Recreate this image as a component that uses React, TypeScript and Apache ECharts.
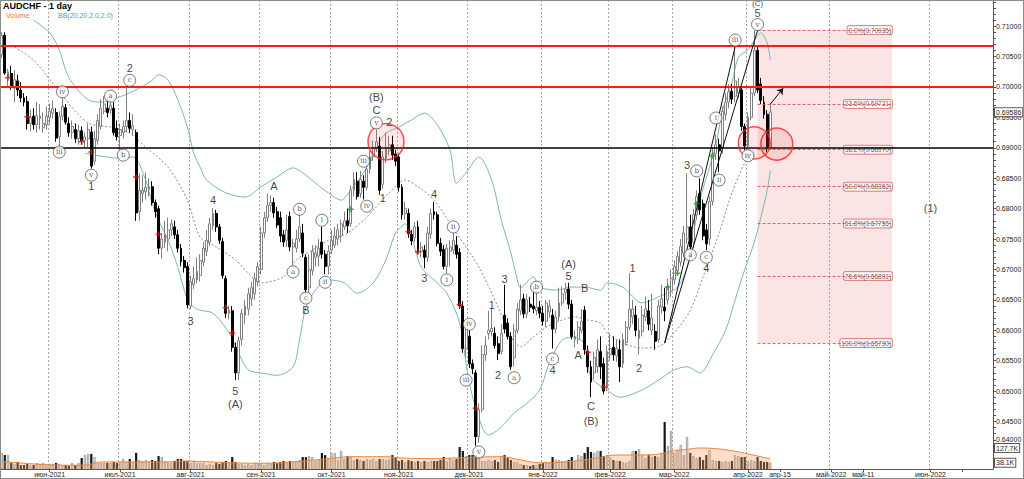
import React, { useEffect, useRef } from "react";
import * as echarts from "echarts";

// ---------- DATA ----------
const opens = [
  0.7053,0.7085,0.7015,0.7022,0.6998,0.7010,0.6995,0.6982,0.6976,0.6940,
  0.6952,0.6938,0.6948,0.6933,0.6938,0.6950,0.6957,0.6958,0.6918,0.6952,
  0.6966,0.6940,0.6925,0.6930,0.6915,0.6928,0.6912,0.6915,0.6926,0.6878,
  0.6912,0.6935,0.6960,0.6965,0.6962,0.6965,0.6932,0.6920,0.6925,0.6935,
  0.6945,0.6930,0.6925,0.6795,0.6825,0.6828,0.6832,0.6836,0.6810,0.6800,
  0.6735,0.6745,0.6750,0.6765,0.6770,0.6757,0.6735,0.6715,0.6705,0.6640,
  0.6675,0.6683,0.6690,0.6712,0.6730,0.6745,0.6772,0.6792,0.6770,0.6746,
  0.6685,0.6628,0.6632,0.6572,0.6530,0.6585,0.6625,0.6635,0.6652,0.6660,
  0.6680,0.6700,0.6760,0.6785,0.6805,0.6810,0.6795,0.6785,0.6757,0.6748,
  0.6787,0.6737,0.6735,0.6750,0.6760,0.6720,0.6670,0.6698,0.6720,0.6722,
  0.6745,0.6725,0.6705,0.6732,0.6740,0.6750,0.6755,0.6770,0.6780,0.6775,
  0.6830,0.6845,0.6825,0.6845,0.6835,0.6865,0.6885,0.6900,0.6903,0.6840,
  0.6882,0.6895,0.6905,0.6890,0.6885,0.6835,0.6792,0.6792,0.6758,0.6752,
  0.6770,0.6729,0.6732,0.6720,0.6758,0.6795,0.6790,0.6743,0.6733,0.6705,
  0.6730,0.6732,0.6740,0.6728,0.6640,0.6570,0.6590,0.6545,0.6530,0.6425,
  0.6470,0.6560,0.6595,0.6598,0.6595,0.6578,0.6565,0.6625,0.6612,0.6590,
  0.6555,0.6600,0.6632,0.6652,0.6627,0.6643,0.6640,0.6632,0.6638,0.6628,
  0.6615,0.6630,0.6625,0.6602,0.6622,0.6645,0.6662,0.6668,0.6643,0.6585,
  0.6585,0.6600,0.6633,0.6565,0.6540,0.6530,0.6540,0.6565,0.6545,0.6505,
  0.6560,0.6572,0.6558,0.6568,0.6545,0.6580,0.6605,0.6622,0.6625,0.6587,
  0.6598,0.6622,0.6632,0.6600,0.6598,0.6585,0.6638,0.6638,0.6650,0.6665,
  0.6683,0.6698,0.6712,0.6727,0.6750,0.6770,0.6745,0.6790,0.6825,0.6808,
  0.6765,0.6750,0.6812,0.6890,0.6905,0.6900,0.6955,0.6975,0.6993,0.6985,
  0.6990,0.6995,0.6935,0.6903,0.6950,0.6990,0.7060,0.7005,0.6975,0.6955,
  0.6900,
];
const closes = [
  0.7085,0.7023,0.7025,0.7000,0.7012,0.6995,0.6982,0.6975,0.6940,0.6950,
  0.6938,0.6953,0.6952,0.6940,0.6952,0.6960,0.6965,0.6916,0.6952,0.6968,
  0.6942,0.6925,0.6935,0.6915,0.6928,0.6912,0.6918,0.6930,0.6870,0.6915,
  0.6945,0.6965,0.6972,0.6958,0.6970,0.6925,0.6918,0.6930,0.6935,0.6945,
  0.6932,0.6936,0.6793,0.6830,0.6830,0.6835,0.6836,0.6810,0.6795,0.6735,
  0.6750,0.6757,0.6765,0.6775,0.6757,0.6735,0.6713,0.6703,0.6642,0.6680,
  0.6685,0.6697,0.6715,0.6735,0.6748,0.6775,0.6792,0.6770,0.6748,0.6690,
  0.6628,0.6633,0.6572,0.6530,0.6583,0.6628,0.6640,0.6660,0.6670,0.6685,
  0.6705,0.6760,0.6785,0.6805,0.6810,0.6793,0.6773,0.6755,0.6745,0.6765,
  0.6737,0.6743,0.6750,0.6770,0.6727,0.6667,0.6700,0.6730,0.6727,0.6735,
  0.6725,0.6705,0.6730,0.6748,0.6755,0.6765,0.6775,0.6780,0.6772,0.6830,
  0.6848,0.6820,0.6848,0.6835,0.6865,0.6885,0.6900,0.6910,0.6830,0.6885,
  0.6898,0.6905,0.6888,0.6878,0.6835,0.6790,0.6800,0.6759,0.6747,0.6770,
  0.6729,0.6737,0.6720,0.6760,0.6792,0.6790,0.6743,0.6730,0.6705,0.6735,
  0.6737,0.6748,0.6725,0.6640,0.6570,0.6605,0.6545,0.6537,0.6425,0.6470,
  0.6560,0.6575,0.6600,0.6603,0.6575,0.6562,0.6595,0.6602,0.6590,0.6540,
  0.6600,0.6635,0.6650,0.6627,0.6650,0.6638,0.6635,0.6638,0.6628,0.6615,
  0.6645,0.6640,0.6602,0.6622,0.6645,0.6660,0.6668,0.6643,0.6590,0.6590,
  0.6605,0.6615,0.6568,0.6540,0.6515,0.6555,0.6568,0.6540,0.6500,0.6565,
  0.6570,0.6560,0.6570,0.6540,0.6585,0.6605,0.6635,0.6635,0.6600,0.6600,
  0.6625,0.6635,0.6610,0.6620,0.6582,0.6640,0.6652,0.6632,0.6672,0.6685,
  0.6705,0.6722,0.6738,0.6760,0.6770,0.6737,0.6790,0.6820,0.6798,0.6755,
  0.6742,0.6812,0.6890,0.6905,0.6895,0.6960,0.6975,0.6992,0.6980,0.7010,
  0.7000,0.6935,0.6903,0.6950,0.6990,0.7060,0.6995,0.6978,0.6955,0.6900,
  0.6959,
];
const lows = [
  0.7048,0.7020,0.7002,0.6995,0.6975,0.6985,0.6975,0.6968,0.6930,0.6927,
  0.6930,0.6925,0.6930,0.6925,0.6930,0.6938,0.6948,0.6910,0.6901,0.6945,
  0.6938,0.6918,0.6915,0.6908,0.6905,0.6905,0.6900,0.6900,0.6866,0.6872,
  0.6905,0.6930,0.6955,0.6950,0.6955,0.6920,0.6912,0.6897,0.6915,0.6925,
  0.6925,0.6920,0.6780,0.6780,0.6810,0.6815,0.6820,0.6805,0.6785,0.6725,
  0.6718,0.6735,0.6730,0.6755,0.6750,0.6728,0.6705,0.6695,0.6636,0.6635,
  0.6668,0.6677,0.6680,0.6705,0.6722,0.6738,0.6765,0.6762,0.6742,0.6685,
  0.6620,0.6618,0.6565,0.6518,0.6518,0.6575,0.6610,0.6625,0.6640,0.6650,
  0.6672,0.6692,0.6752,0.6778,0.6795,0.6785,0.6768,0.6745,0.6737,0.6737,
  0.6730,0.6707,0.6728,0.6745,0.6720,0.6660,0.6662,0.6690,0.6705,0.6705,
  0.6718,0.6692,0.6692,0.6725,0.6735,0.6740,0.6745,0.6765,0.6760,0.6770,
  0.6820,0.6815,0.6818,0.6815,0.6830,0.6858,0.6880,0.6893,0.6823,0.6832,
  0.6875,0.6888,0.6880,0.6870,0.6828,0.6782,0.6782,0.6752,0.6740,0.6745,
  0.6725,0.6720,0.6702,0.6712,0.6750,0.6782,0.6738,0.6722,0.6700,0.6694,
  0.6705,0.6725,0.6718,0.6635,0.6563,0.6555,0.6538,0.6528,0.6410,0.6415,
  0.6465,0.6550,0.6585,0.6590,0.6570,0.6551,0.6560,0.6595,0.6585,0.6535,
  0.6540,0.6595,0.6625,0.6620,0.6620,0.6630,0.6628,0.6625,0.6620,0.6608,
  0.6605,0.6620,0.6570,0.6595,0.6615,0.6640,0.6650,0.6635,0.6585,0.6572,
  0.6578,0.6595,0.6560,0.6530,0.6490,0.6520,0.6530,0.6520,0.6495,0.6500,
  0.6550,0.6550,0.6548,0.6515,0.6538,0.6575,0.6600,0.6610,0.6590,0.6560,
  0.6590,0.6615,0.6600,0.6592,0.6568,0.6580,0.6628,0.6615,0.6642,0.6655,
  0.6675,0.6690,0.6705,0.6720,0.6742,0.6732,0.6735,0.6782,0.6790,0.6748,
  0.6732,0.6740,0.6805,0.6880,0.6860,0.6890,0.6945,0.6965,0.6972,0.6975,
  0.6982,0.6928,0.6896,0.6898,0.6945,0.6985,0.6990,0.6972,0.6948,0.6893,
  0.6897,
];
const highs = [
  0.7090,0.7090,0.7030,0.7035,0.7028,0.7020,0.7008,0.6990,0.6985,0.6963,
  0.6965,0.6975,0.6972,0.6958,0.6968,0.6973,0.6978,0.6965,0.6960,0.6983,
  0.6972,0.6950,0.6945,0.6940,0.6938,0.6935,0.6925,0.6940,0.6935,0.6928,
  0.6955,0.6980,0.6985,0.6983,0.6985,0.6975,0.6945,0.6940,0.6945,0.7000,
  0.6958,0.6955,0.6930,0.6858,0.6855,0.6860,0.6850,0.6845,0.6815,0.6805,
  0.6760,0.6780,0.6785,0.6782,0.6780,0.6765,0.6742,0.6722,0.6712,0.6690,
  0.6705,0.6720,0.6725,0.6745,0.6765,0.6785,0.6801,0.6798,0.6775,0.6752,
  0.6690,0.6640,0.6640,0.6580,0.6590,0.6635,0.6650,0.6670,0.6680,0.6695,
  0.6712,0.6770,0.6795,0.6825,0.6822,0.6818,0.6803,0.6795,0.6765,0.6790,
  0.6795,0.6750,0.6765,0.6793,0.6775,0.6725,0.6725,0.6740,0.6740,0.6750,
  0.6770,0.6732,0.6740,0.6765,0.6770,0.6775,0.6782,0.6795,0.6800,0.6838,
  0.6860,0.6860,0.6862,0.6855,0.6875,0.6895,0.6912,0.6930,0.6918,0.6895,
  0.6925,0.6920,0.6920,0.6897,0.6890,0.6840,0.6812,0.6800,0.6765,0.6778,
  0.6780,0.6745,0.6740,0.6770,0.6800,0.6811,0.6795,0.6752,0.6740,0.6742,
  0.6748,0.6760,0.6755,0.6735,0.6648,0.6615,0.6600,0.6552,0.6535,0.6480,
  0.6575,0.6590,0.6632,0.6637,0.6605,0.6590,0.6610,0.6675,0.6620,0.6597,
  0.6610,0.6645,0.6675,0.6660,0.6660,0.6655,0.6672,0.6665,0.6648,0.6640,
  0.6650,0.6650,0.6635,0.6632,0.6670,0.6672,0.6678,0.6678,0.6650,0.6600,
  0.6615,0.6635,0.6640,0.6575,0.6550,0.6565,0.6585,0.6590,0.6555,0.6575,
  0.6595,0.6590,0.6585,0.6585,0.6595,0.6615,0.6694,0.6650,0.6640,0.6620,
  0.6640,0.6655,0.6650,0.6660,0.6610,0.6650,0.6675,0.6670,0.6685,0.6700,
  0.6715,0.6730,0.6750,0.6772,0.6858,0.6790,0.6800,0.6830,0.6850,0.6815,
  0.6775,0.6820,0.6900,0.6922,0.6915,0.6968,0.6990,0.7005,0.7005,0.7066,
  0.7015,0.7000,0.6940,0.6958,0.7000,0.7093,0.7068,0.7015,0.6985,0.6962,
  0.6974,
];
// tick volume, thousands
const volumes = [
  98,85,85,37,31,43,24,24,31,24, 24,37,31,37,24,31,31,37,31,24,
  24,18,37,24,37,67,85,92,92,73, 37,37,37,37,37,43,37,43,61,43,
  61,43,98,55,49,55,49,55,49,79, 73,49,43,37,49,61,61,49,49,37,
  49,37,37,37,24,31,24,37,31,43, 49,37,73,43,31,31,24,31,24,37,
  37,37,24,37,31,43,37,43,49,43, 49,43,49,55,73,73,79,73,49,61,
  98,85,61,98,98,55,110,61,79,73, 55,61,55,49,61,55,61,49,61,61,
  55,61,85,73,49,55,43,55,49,43, 49,43,49,43,49,49,49,55,73,49,
  67,55,61,134,110,79,85,85,85,67, 49,49,55,49,55,43,79,85,67,55,
  43,43,31,24,24,18,24,24,31,37, 43,37,73,55,55,49,49,55,73,49,
  85,79,98,134,104,98,110,110,79,85, 73,55,49,49,43,37,49,110,110,122,
  85,67,85,73,79,73,98,287,140,232, 98,116,146,85,195,98,79,67,73,55,
  85,116,55,49,49,43,49,43,49,85, 79,73,73,49,55,49,73,49,43,43,
  38,
];
const volumeAvg: [number, number][] = [
  [0,47],[10,31],[20,23],[26,23],[31,43],[41,43],[52,43],[55,49],[73,37],[83,35],
  [93,47],[104,67],[109,75],[120,75],[125,67],[135,63],[146,71],[156,75],[162,55],
  [168,38],[176,43],[187,71],[190,84],[203,87],[207,98],[210,112],[214,120],[218,128],
  [223,124],[229,108],[233,92],[237,75],[240,63],
];
const bbUpper: [number, number][] = [
  [10,0.7110],[15,0.7089],[18,0.7061],[20,0.7028],[22,0.7007],[27,0.6979],[31,0.6975],
  [37,0.6984],[43,0.6998],[47,0.7011],[49,0.7020],[52,0.7011],[55,0.6979],[58,0.6934],
  [60,0.6891],[62,0.6868],[64,0.6847],[70,0.6826],[76,0.6819],[81,0.6836],[86,0.6852],
  [91,0.6867],[94,0.6859],[98,0.6842],[102,0.6826],[106,0.6814],[109,0.6831],[113,0.6859],
  [117,0.6901],[120,0.6924],[124,0.6934],[128,0.6946],[132,0.6957],[136,0.6938],[140,0.6896],
  [142,0.6842],[145,0.6859],[149,0.6885],[153,0.6847],[156,0.6781],[159,0.6727],[161,0.6683],
  [162,0.6670],[166,0.6688],[168,0.6671],[174,0.6666],[177,0.6671],[182,0.6671],[187,0.6666],
  [189,0.6678],[194,0.6671],[200,0.6645],[205,0.6655],[211,0.6671],[214,0.6704],[216,0.6760],
  [218,0.6814],[221,0.6868],[223,0.6905],[225,0.6960],[228,0.7007],[230,0.7049],[233,0.7061],
  [235,0.7077],[237,0.7089],[239,0.7072],[240,0.7044],
];
const bbMiddle: [number, number][] = [
  [3,0.7069],[10,0.7044],[20,0.6979],[27,0.6941],[34,0.6934],[40,0.6924],[45,0.6901],
  [52,0.6868],[58,0.6814],[62,0.6753],[67,0.6737],[73,0.6716],[77,0.6694],[81,0.6678],
  [88,0.6688],[92,0.6716],[97,0.6732],[102,0.6748],[108,0.6760],[113,0.6781],[117,0.6803],
  [121,0.6826],[126,0.6847],[130,0.6836],[135,0.6814],[142,0.6760],[149,0.6704],[155,0.6638],
  [159,0.6589],[162,0.6573],[166,0.6589],[170,0.6605],[175,0.6617],[179,0.6622],[183,0.6617],
  [187,0.6612],[189,0.6596],[194,0.6579],[200,0.6571],[205,0.6573],[210,0.6596],[215,0.6633],
  [219,0.6688],[224,0.6760],[228,0.6826],[232,0.6875],[234,0.6891],
];
const bbLower: [number, number][] = [
  [26,0.6891],[37,0.6883],[41,0.6885],[45,0.6847],[47,0.6809],[49,0.6781],[52,0.6748],
  [55,0.6704],[58,0.6650],[60,0.6638],[62,0.6633],[66,0.6628],[71,0.6596],[74,0.6563],
  [77,0.6535],[81,0.6530],[86,0.6526],[91,0.6540],[93,0.6584],[95,0.6638],[98,0.6666],
  [102,0.6683],[107,0.6678],[111,0.6661],[116,0.6678],[120,0.6716],[123,0.6760],[126,0.6775],
  [131,0.6704],[136,0.6678],[139,0.6661],[143,0.6612],[146,0.6513],[150,0.6441],[152,0.6428],
  [156,0.6441],[160,0.6464],[164,0.6480],[168,0.6502],[171,0.6546],[175,0.6584],[179,0.6589],
  [182,0.6576],[184,0.6523],[189,0.6502],[193,0.6490],[200,0.6502],[205,0.6518],[210,0.6535],
  [214,0.6540],[218,0.6530],[222,0.6560],[226,0.6600],[229,0.6650],[232,0.6700],[235,0.6745],
  [237,0.6785],[239,0.6830],[240,0.6863],
];
// Elliott wave labels [bar, price, text, fontSize]
const waveLabels: [number, number, string, number][] = [
  [40,0.7031,"2",11],[28,0.6837,"1",11],[59,0.6615,"3",11],[66,0.6814,"4",11],[73,0.6500,"5",11],[73,0.6479,"(A)",11],
  [85,0.6837,"A",11],[95,0.6633,"B",11],[117,0.6984,"(B)",11],[117,0.6962,"C",11],[121,0.6942,"2",11],[119,0.6818,"1",11],
  [135,0.6824,"4",11],[132,0.6686,"3",11],[153,0.6642,"1",11],[157,0.6684,"3",11],[155,0.6526,"2",11],
  [177,0.6709,"(A)",11],[177,0.6689,"5",11],[182,0.6670,"B",11],[180,0.6559,"A",11],[172,0.6535,"4",11],
  [184,0.6476,"C",11],[184,0.6451,"(B)",11],[197,0.6702,"1",11],[199,0.6538,"2",11],[214,0.6872,"3",11],
  [220,0.6702,"4",11],[236,0.71216,"5",11],[236,0.71368,"(C)",8],[290,0.6801,"(1)",11],
];
const circledLabels: [number, number, string][] = [
  [19,0.6992,"iv"],[18,0.6893,"iii"],[28,0.6855,"v"],[34,0.6985,"a"],[38,0.6888,"b"],[40,0.7011,"c"],
  [93,0.6799,"b"],[91,0.6696,"a"],[95,0.6653,"c"],[100,0.6781,"i"],[101,0.6679,"ii"],
  [113,0.6878,"iii"],[114,0.6804,"iv"],[117,0.6941,"v"],[141,0.6770,"ii"],[139,0.6683,"i"],
  [146,0.6610,"iv"],[145,0.6518,"iii"],[149,0.6400,"v"],[167,0.6671,"b"],[160,0.6522,"a"],
  [172,0.6553,"c"],[217,0.6862,"b"],[215,0.6724,"a"],[220,0.6720,"c"],[223,0.6949,"i"],
  [224,0.6847,"ii"],[229,0.7077,"iii"],[233,0.6887,"iv"],[236,0.71027,"v"],
];
const redMarks: [number, number][] = [
  [2,0.7015],[8,0.6951],[25,0.6910],[28,0.6893],[42,0.6852],[49,0.6758],[70,0.6637],[72,0.6596],
  [127,0.6762],[130,0.6729],[143,0.6642],[148,0.6472],[183,0.6564],[188,0.6507],
];
const greenMarks: [number, number][] = [
  [109,0.6799],[115,0.6880],[208,0.6671],[211,0.6694],[217,0.6808],[222,0.6887],
];
const zoneCircles: [number, number, number][] = [
  [120,0.6910,36],[235,0.6908,32],[242,0.6906,32],
];
const fibLevels: [number, number][] = [
  [0.0,0.70935],[23.6,0.69721],[38.2,0.68970],[50.0,0.68362],[61.8,0.67755],[78.6,0.66891],[100.0,0.65790],
];
const fibStartBar = 236;
const fibEndBar = 278;
const redLevels = [0.7068, 0.7000];
const blackLevels = [0.6900];
const lastPrice = 0.69586;
const volumeTags: [number, string][] = [[127.7, "127.7K"], [38.1, "38.1K"]];
const waveLines: [number, number, number, number][] = [
  [207,0.6579,236,0.7093],[207,0.6579,229,0.7066],
];
const arrowLine: [number, number, number, number] = [240,0.6972,244,0.6998];
const priceLabels = [0.640,0.645,0.650,0.655,0.660,0.665,0.670,0.675,0.680,0.685,0.690,0.695,0.700,0.705,0.710];

const RU_MONTHS = ["янв","фев","мар","апр","май","июн","июл","авг","сен","окт","ноя","дек"];
const SLOT_COUNT = 310;
const dayLabelDates = ["2022-04-15", "2022-05-11"];
const tickOnlyDates = ["2022-06-11"];

function iso(d: Date) {
  return d.toISOString().slice(0, 10);
}

function buildSlots() {
  const dates: Date[] = [];
  const d = new Date(Date.UTC(2021, 4, 11));
  while (dates.length < opens.length) {
    const wd = d.getUTCDay();
    if (wd !== 0 && wd !== 6) dates.push(new Date(d.getTime()));
    d.setUTCDate(d.getUTCDate() + 1);
  }
  while (dates.length < SLOT_COUNT) {
    dates.push(new Date(d.getTime()));
    d.setUTCDate(d.getUTCDate() + 1);
  }
  const cats = dates.map(iso);
  const labelMap = new Map<number, string>();
  const monthSet = new Set<number>();
  const tickSet = new Set<number>();
  for (let i = 1; i < dates.length; i++) {
    const m = dates[i].getUTCMonth();
    if (m !== dates[i - 1].getUTCMonth()) {
      labelMap.set(i, `${RU_MONTHS[m]}-${dates[i].getUTCFullYear()}`);
      monthSet.add(i);
      tickSet.add(i);
    }
    if (dayLabelDates.includes(cats[i])) {
      labelMap.set(i, `${RU_MONTHS[m]}-${dates[i].getUTCDate()}`);
      tickSet.add(i);
    }
    if (tickOnlyDates.includes(cats[i])) tickSet.add(i);
  }
  return { cats, labelMap, monthSet, tickSet };
}

function buildOption() {
  const { cats, labelMap, monthSet, tickSet } = buildSlots();
  const candleData = opens.map((o, i) => [o, closes[i], lows[i], highs[i]]);
  const volData = volumes.map((v, i) => {
    const up = closes[i] >= opens[i];
    return {
      value: v,
      itemStyle: up
        ? { color: "#ffffff", borderColor: "#8a8a8a", borderWidth: 0.8 }
        : { color: "#161616", borderColor: "#161616", borderWidth: 0 },
    };
  });
  const yTicks: number[] = [];
  for (let k = 638; k <= 714; k++) yTicks.push(k / 1000);

  const font = "Liberation Sans, Arial, sans-serif";
  const fibLast = fibLevels[fibLevels.length - 1][1];
  const lowestLabel = priceLabels[0];
  const hiddenLine = { color: "rgba(0,0,0,0)", width: 0, opacity: 1 };
  const tagLabel = (text: string) => ({
    show: true,
    position: "end",
    distance: 2,
    formatter: text,
    fontSize: 7,
    color: "#222",
    opacity: 1,
    backgroundColor: "#ffffff",
    borderColor: "#555",
    borderWidth: 1,
    padding: [1, 1, 0, 1],
    fontFamily: font,
  });

  return {
    animation: false,
    backgroundColor: "#ffffff",
    textStyle: { fontFamily: font },
    title: [
      { text: "AUDCHF - 1 day", left: 3, top: 1, padding: 0, textStyle: { fontSize: 9, fontWeight: "bold", color: "#000", fontFamily: font } },
      { text: "Volume", left: 6, top: 12, padding: 0, textStyle: { fontSize: 7, fontWeight: "normal", color: "#e07a2a", fontFamily: font } },
      { text: "BB(20,20,2.0,2.0)", left: 58, top: 12, padding: 0, textStyle: { fontSize: 7, fontWeight: "normal", color: "#5c9e9e", fontFamily: font } },
    ],
    grid: [
      { left: 0, right: 31, top: 0, bottom: 10, outerBoundsMode: "none", containLabel: false },
      { left: 0, right: 31, top: 409, height: 60, outerBoundsMode: "none", containLabel: false },
    ],
    xAxis: [
      {
        type: "category",
        gridIndex: 0,
        data: cats,
        boundaryGap: true,
        axisLine: { show: true, lineStyle: { color: "#555", width: 1 } },
        axisTick: { show: true, alignWithLabel: true, length: 3, interval: (i: number) => tickSet.has(i), lineStyle: { color: "#555" } },
        axisLabel: {
          interval: (i: number) => labelMap.has(i),
          formatter: (_v: string, i: number) => labelMap.get(i) ?? "",
          fontSize: 7,
          color: "#222",
          margin: 2,
          fontFamily: font,
        },
        splitLine: { show: true, interval: (i: number) => monthSet.has(i), lineStyle: { color: "#a9a9a9", type: [2, 2], width: 1 } },
      },
      {
        type: "category",
        gridIndex: 1,
        data: cats,
        boundaryGap: true,
        show: false,
      },
    ],
    yAxis: [
      {
        type: "value",
        gridIndex: 0,
        position: "right",
        min: 0.6372,
        max: 0.7143,
        axisLine: { show: true, lineStyle: { color: "#555" } },
        axisTick: { show: true, length: 3, customValues: yTicks, lineStyle: { color: "#555" } },
        axisLabel: {
          customValues: priceLabels,
          formatter: (v: number) =>
            Math.abs(v - lowestLabel) < 1e-9 ? `{up|${v.toFixed(5)}}` : v.toFixed(5),
          rich: { up: { fontSize: 7, color: "#222", padding: [0, 0, 24, 0], fontFamily: font } },
          fontSize: 7,
          color: "#222",
          margin: 3,
          fontFamily: font,
        },
        splitLine: { show: false },
      },
      { type: "value", gridIndex: 1, min: 0, max: 366, show: false, splitLine: { show: false } },
    ],
    series: [
      {
        name: "fib",
        type: "scatter",
        xAxisIndex: 0,
        yAxisIndex: 0,
        z: 1,
        symbolSize: 0,
        silent: true,
        data: fibLevels.map(([pct, price]) => ({
          value: [fibEndBar, price],
          label: { formatter: `${pct.toFixed(1)}%(${price.toFixed(5)})` },
        })),
        label: {
          show: true,
          position: "left",
          distance: 0,
          fontSize: 6.5,
          color: "#333",
          backgroundColor: "#ffffff",
          borderColor: "#e06a6a",
          borderWidth: 1,
          borderRadius: 2,
          padding: [1, 1, 0, 1],
          fontFamily: font,
        },
        markArea: {
          silent: true,
          itemStyle: { color: "rgba(228,120,120,0.2)" },
          data: [[{ coord: [cats[fibStartBar], fibLevels[0][1]] }, { coord: [cats[fibEndBar], fibLast] }]],
        },
        markLine: {
          silent: true,
          precision: 5,
          symbol: ["none", "none"],
          label: { show: false },
          lineStyle: { color: "rgba(214,80,80,0.85)", type: [3, 2], width: 1 },
          data: fibLevels.map(([, price]) => [
            { coord: [cats[fibStartBar], price] },
            { coord: [cats[fibEndBar], price] },
          ]),
        },
      },
      {
        name: "bbUpper",
        type: "line",
        xAxisIndex: 0,
        yAxisIndex: 0,
        z: 2,
        data: bbUpper,
        symbol: "none",
        smooth: 0.3,
        lineStyle: { color: "#7fb5b5", width: 1 },
        silent: true,
      },
      {
        name: "bbLower",
        type: "line",
        xAxisIndex: 0,
        yAxisIndex: 0,
        z: 2,
        data: bbLower,
        symbol: "none",
        smooth: 0.3,
        lineStyle: { color: "#7fb5b5", width: 1 },
        silent: true,
      },
      {
        name: "bbMiddle",
        type: "line",
        xAxisIndex: 0,
        yAxisIndex: 0,
        z: 2,
        data: bbMiddle,
        symbol: "none",
        smooth: 0.3,
        lineStyle: { color: "#8a8a8a", width: 1, type: [2, 2] },
        silent: true,
      },
      {
        name: "AUDCHF",
        type: "candlestick",
        xAxisIndex: 0,
        yAxisIndex: 0,
        z: 3,
        barWidth: 2.4,
        data: candleData,
        itemStyle: {
          color: "#ffffff",
          color0: "#000000",
          borderColor: "#808080",
          borderColor0: "#000000",
          borderWidth: 1,
        },
        markLine: {
          silent: true,
          precision: 5,
          symbol: ["none", "none"],
          data: [
            ...redLevels.map((v) => ({ yAxis: v, lineStyle: { color: "#ff1a1a", width: 2, type: "solid" }, label: { show: false } })),
            ...blackLevels.map((v) => ({ yAxis: v, lineStyle: { color: "#000000", width: 1.6, type: "solid" }, label: { show: false } })),
          ],
        },
      },
      {
        name: "lastPriceTag",
        type: "line",
        xAxisIndex: 0,
        yAxisIndex: 0,
        z: 7,
        data: [],
        silent: true,
        markLine: {
          silent: true,
          precision: 5,
          symbol: ["none", "none"],
          lineStyle: hiddenLine,
          data: [{ yAxis: lastPrice, lineStyle: hiddenLine, label: tagLabel(lastPrice.toFixed(5)) }],
        },
      },
      {
        name: "Volume",
        type: "bar",
        xAxisIndex: 1,
        yAxisIndex: 1,
        z: 2,
        barWidth: 2.2,
        data: volData,
        silent: true,
        markLine: {
          silent: true,
          precision: 1,
          symbol: ["none", "none"],
          lineStyle: hiddenLine,
          data: volumeTags.map(([v, t]) => ({ yAxis: v, lineStyle: hiddenLine, label: tagLabel(t) })),
        },
      },
      {
        name: "VolumeAvg",
        type: "line",
        xAxisIndex: 1,
        yAxisIndex: 1,
        z: 3,
        data: volumeAvg,
        symbol: "none",
        smooth: 0.4,
        silent: true,
        lineStyle: { color: "#e8853a", width: 1 },
        areaStyle: { color: "rgba(244,160,100,0.5)" },
      },
      {
        name: "redMarks",
        type: "scatter",
        xAxisIndex: 0,
        yAxisIndex: 0,
        z: 4,
        symbol: "path://M3,0H5V3H8V5H5V8H3V5H0V3H3Z",
        symbolSize: 6,
        itemStyle: { color: "#c81414" },
        data: redMarks,
        silent: true,
      },
      {
        name: "greenMarks",
        type: "scatter",
        xAxisIndex: 0,
        yAxisIndex: 0,
        z: 4,
        symbol: "path://M3,0H5V3H8V5H5V8H3V5H0V3H3Z",
        symbolSize: 6,
        itemStyle: { color: "#1f9a2a" },
        data: greenMarks,
        silent: true,
      },
      {
        name: "zones",
        type: "scatter",
        xAxisIndex: 0,
        yAxisIndex: 0,
        z: 5,
        symbol: "circle",
        data: zoneCircles.map(([b, p, s]) => ({ value: [b, p], symbolSize: s })),
        itemStyle: { color: "rgba(255,70,70,0.16)", borderColor: "#ff2020", borderWidth: 1.5 },
        silent: true,
      },
      {
        name: "waves",
        type: "scatter",
        xAxisIndex: 0,
        yAxisIndex: 0,
        z: 6,
        clip: false,
        symbol: "circle",
        symbolSize: 1,
        itemStyle: { color: "rgba(0,0,0,0)" },
        silent: true,
        data: waveLabels.map(([b, p, t, fs]) => ({
          value: [b, p],
          label: { formatter: t, fontSize: fs, color: "#111111", textBorderWidth: 0 },
        })),
        label: {
          show: true,
          position: "inside",
          fontSize: 11,
          color: "#111111",
          textBorderWidth: 0,
          textBorderColor: "rgba(0,0,0,0)",
          fontFamily: font,
        },
        markLine: {
          silent: true,
          precision: 5,
          symbol: ["none", "none"],
          label: { show: false },
          lineStyle: { color: "#111", width: 1, type: "solid" },
          data: [
            ...waveLines.map(([b1, p1, b2, p2]) => [{ coord: [cats[b1], p1] }, { coord: [cats[b2], p2] }]),
            [
              { coord: [cats[arrowLine[0]], arrowLine[1]], symbol: "none" },
              { coord: [cats[arrowLine[2]], arrowLine[3]], symbol: "arrow", symbolSize: 6 },
            ],
          ],
        },
      },
      {
        name: "circled",
        type: "scatter",
        xAxisIndex: 0,
        yAxisIndex: 0,
        z: 6,
        clip: false,
        symbol: "circle",
        symbolSize: 12,
        itemStyle: { color: "#ffffff", borderColor: "#555", borderWidth: 1 },
        silent: true,
        data: circledLabels.map(([b, p, t]) => ({ value: [b, p], label: { formatter: t } })),
        label: {
          show: true,
          position: "inside",
          fontSize: 7,
          color: "#222",
          textBorderWidth: 0,
          fontFamily: "DejaVu Serif, Liberation Serif, serif",
        },
      },
    ],
  };
}

export default function App() {
  const ref = useRef<HTMLDivElement>(null);
  useEffect(() => {
    if (!ref.current) return;
    const chart = echarts.init(ref.current, undefined, { renderer: "svg" });
    chart.setOption(buildOption() as any);
    return () => chart.dispose();
  }, []);
  return (
    <div style={{ position: "absolute", left: 0, top: 0, width: 1024, height: 479, background: "#fff" }}>
      <div ref={ref} style={{ width: 1024, height: 479 }} />
      <div
        style={{
          position: "absolute",
          left: 0,
          top: 0,
          width: 1024,
          height: 479,
          boxSizing: "border-box",
          border: "1px solid #8c8c8c",
          pointerEvents: "none",
        }}
      />
    </div>
  );
}
